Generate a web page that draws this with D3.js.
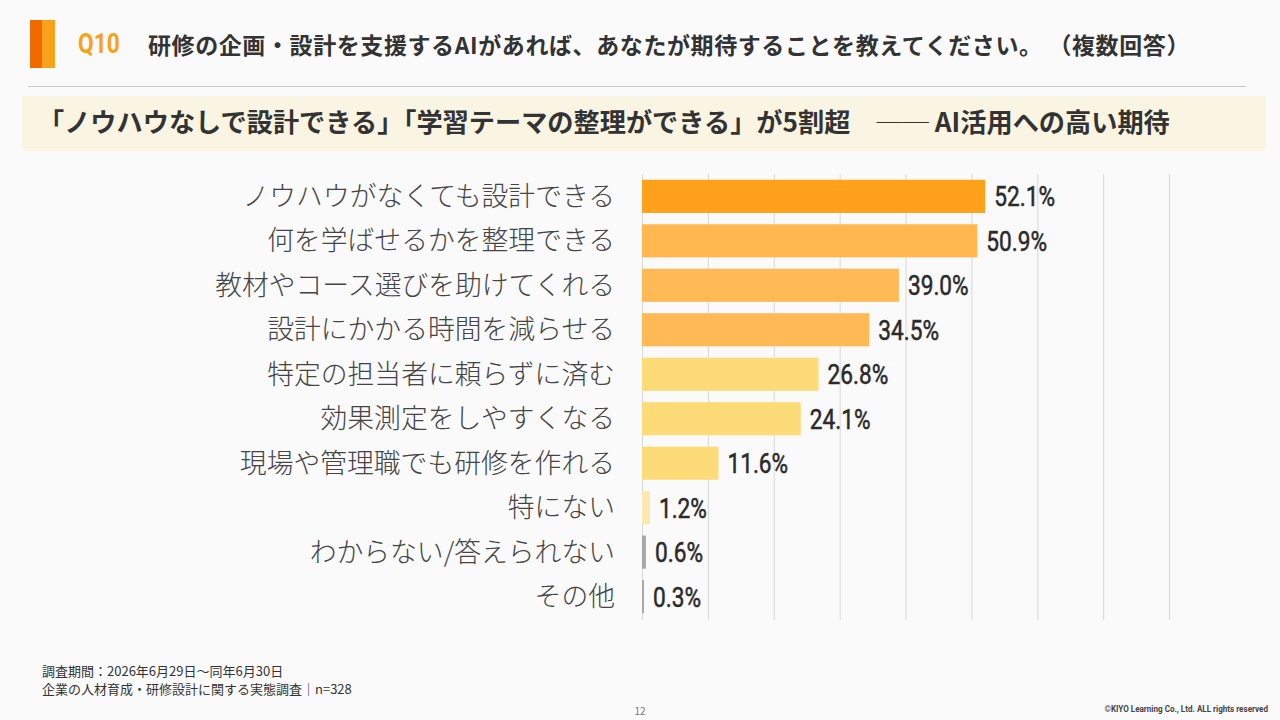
<!DOCTYPE html>
<html><head><meta charset="utf-8">
<script src="https://cdn.jsdelivr.net/npm/d3@7"></script>
<style>
html,body{margin:0;padding:0;background:#fafafa;}
svg{display:block;}
</style></head>
<body>
<svg id="c" width="1280" height="720"></svg>
<script>
const categories = [
  "ノウハウがなくても設計できる",
  "何を学ばせるかを整理できる",
  "教材やコース選びを助けてくれる",
  "設計にかかる時間を減らせる",
  "特定の担当者に頼らずに済む",
  "効果測定をしやすくなる",
  "現場や管理職でも研修を作れる",
  "特にない",
  "わからない/答えられない",
  "その他"
];
const values = [52.1, 50.9, 39.0, 34.5, 26.8, 24.1, 11.6, 1.2, 0.6, 0.3];
const barColors = ["#FFA11A","#FFB84F","#FFBA55","#FFBA55","#FDDB78","#FDDB78","#FDDB78","#FDE8AE","#A8A8A8","#A8A8A8"];
const gridTicks = [0,10,20,30,40,50,60,70,80];
const titleQ = "Q10";
const titleText = "研修の企画・設計を支援するAIがあれば、あなたが期待することを教えてください。 （複数回答）";
const subtitleText = "「ノウハウなしで設計できる」「学習テーマの整理ができる」が5割超　── AI活用への高い期待";
const footnotes = ["調査期間：2026年6月29日～同年6月30日", "企業の人材育成・研修設計に関する実態調査｜n=328"];
const pageNo = "12";
const copyright = "©KIYO Learning Co., Ltd. ALL rights reserved";

const svg = d3.select("#c");
const JP = "'Noto Sans CJK JP','Noto Sans',sans-serif";
const NUM = "Roboto,'Noto Sans',sans-serif";

function fitWidth(sel, target){
  const n = sel.text().length;
  const w = sel.node().getComputedTextLength();
  sel.attr("letter-spacing", ((target - w) / n).toFixed(3));
}

svg.append("rect").attr("width",1280).attr("height",720).attr("fill","#fafafa");

// header accent
svg.append("rect").attr("x",30).attr("y",20).attr("width",12).attr("height",48).attr("fill","#F06A00");
svg.append("rect").attr("x",42).attr("y",20).attr("width",13).attr("height",48).attr("fill","#F8A11B");
svg.append("text").attr("transform","translate(78,52.5) scale(0.8,1)").text(titleQ)
  .attr("font-family",NUM).attr("font-weight",700).attr("font-size",28.5).attr("fill","#F8A11B");
const t1 = svg.append("text").attr("x",148).attr("y",54).text(titleText)
  .attr("font-family",JP).attr("font-weight",700).attr("font-size",23).attr("fill","#333");
fitWidth(t1, 1042);
svg.append("line").attr("x1",28).attr("x2",1246).attr("y1",86.5).attr("y2",86.5)
  .attr("stroke","#c8c8c8").attr("stroke-width",1);

// subtitle band
svg.append("rect").attr("x",22).attr("y",96).attr("width",1244).attr("height",55).attr("fill","#FAF4E2");
svg.append("text").attr("x",38).attr("y",132).text(subtitleText)
  .attr("font-family",JP).attr("font-weight",700).attr("font-size",26.2).attr("fill","#333");

// chart
const x = d3.scaleLinear().domain([0,80]).range([642,1169]);
const y = d3.scaleBand().domain(categories).range([174,619]).paddingInner(0.255).paddingOuter(0.13);

svg.append("g").selectAll("line").data(gridTicks).join("line")
  .attr("x1",d=>x(d)+0.5).attr("x2",d=>x(d)+0.5).attr("y1",174).attr("y2",620)
  .attr("stroke","#d8d8d8").attr("stroke-width",1);

svg.append("g").selectAll("rect").data(values).join("rect")
  .attr("x",x(0)).attr("y",(d,i)=>y(categories[i]))
  .attr("width",d=>Math.max(x(d)-x(0),1.5)).attr("height",y.bandwidth())
  .attr("fill",(d,i)=>barColors[i]);

svg.append("g").selectAll("text").data(categories).join("text")
  .attr("x",615).attr("y",d=>y(d)+y.bandwidth()/2).attr("dy","0.36em")
  .attr("text-anchor","end").text(d=>d)
  .attr("font-family",JP).attr("font-weight",300).attr("font-size",26.8).attr("fill","#444");

svg.append("g").selectAll("text").data(values).join("text")
  .attr("transform",(d,i)=>`translate(${x(d)+9},${y(categories[i])+y.bandwidth()/2+10}) scale(0.84,1)`)
  .text(d=>d.toFixed(1)+"%")
  .attr("font-family",NUM).attr("font-weight",400).attr("font-size",27).attr("fill","#2a2a2a")
  .attr("stroke","#2a2a2a").attr("stroke-width",0.5);

// footer
svg.append("g").selectAll("text").data(footnotes).join("text")
  .attr("x",42).attr("y",(d,i)=>676+i*17.5).text(d=>d)
  .attr("font-family",JP).attr("font-size",13).attr("fill","#333");
svg.append("text").attr("x",640).attr("y",715).attr("text-anchor","middle").text(pageNo)
  .attr("font-family",JP).attr("font-size",10).attr("fill","#777");
svg.append("text").attr("transform","translate(1268,712) scale(0.9,1)").attr("text-anchor","end").text(copyright)
  .attr("font-family",NUM).attr("font-weight",700).attr("font-size",9).attr("fill","#444");
</script>
</body></html>
